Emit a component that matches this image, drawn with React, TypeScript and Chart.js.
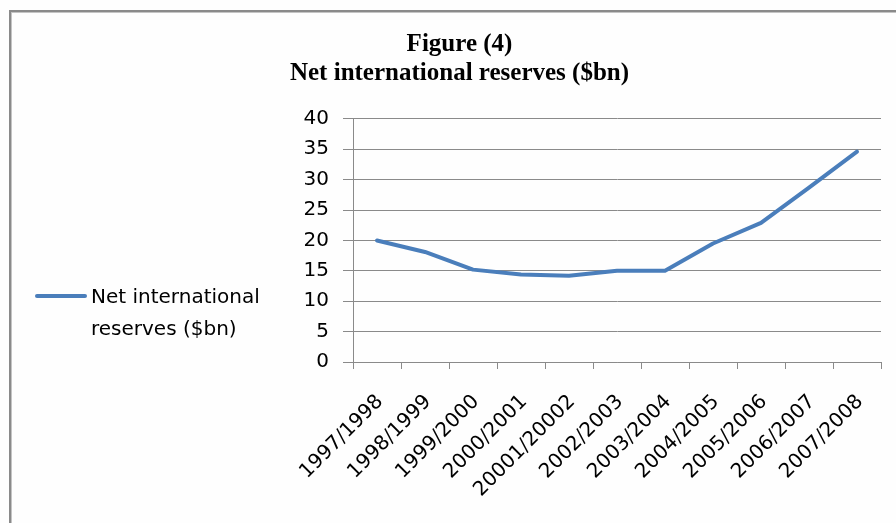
import React, { useEffect, useRef } from 'react';
import { Chart, registerables } from 'chart.js';

Chart.register(...registerables);

// Fiscal years on the category axis (labels kept as published)
const fiscalYears = [
  '1997/1998',
  '1998/1999',
  '1999/2000',
  '2000/2001',
  '20001/20002',
  '2002/2003',
  '2003/2004',
  '2004/2005',
  '2005/2006',
  '2006/2007',
  '2007/2008',
];

// Net international reserves, billions of dollars
const netReserves = [20.0, 18.1, 15.2, 14.4, 14.2, 15.0, 15.0, 19.5, 22.9, 28.7, 34.6];

const seriesLabel = 'Net international reserves ($bn)';
const titleLines = ['Figure (4)', 'Net international reserves ($bn)'];

const yMin = 0;
const yMax = 40;
const yStep = 5;

const LINE_BLUE = '#4A7EBB';
const AXIS_GREY = '#8a8a8a';
const SANS = '"DejaVu Sans", sans-serif';
const SERIF = '"Liberation Serif", "Times New Roman", serif';

// Legend drawn to the left of the value axis, wrapping the label onto two lines
const sideLegend = {
  id: 'sideLegend',
  afterDraw(chart: any) {
    const { ctx } = chart;
    const ds = chart.data.datasets[0];
    const maxWidth = 190;
    ctx.save();
    ctx.font = `20px ${SANS}`;
    const words = String(ds.label).split(' ');
    const lines: string[] = [];
    let current = '';
    for (const w of words) {
      const trial = current ? current + ' ' + w : w;
      if (current && ctx.measureText(trial).width > maxWidth) {
        lines.push(current);
        current = w;
      } else {
        current = trial;
      }
    }
    if (current) lines.push(current);

    ctx.strokeStyle = ds.borderColor;
    ctx.lineWidth = 4;
    ctx.lineCap = 'round';
    ctx.beginPath();
    ctx.moveTo(37, 296);
    ctx.lineTo(85, 296);
    ctx.stroke();

    ctx.fillStyle = '#000';
    ctx.textAlign = 'left';
    ctx.textBaseline = 'alphabetic';
    lines.forEach((line, i) => {
      ctx.fillText(line, 91, 303 + i * 32.3);
    });
    ctx.restore();
  },
};

export default function App() {
  const canvasRef = useRef<HTMLCanvasElement | null>(null);

  useEffect(() => {
    if (!canvasRef.current) return;
    const chart = new Chart(canvasRef.current, {
      type: 'line',
      data: {
        labels: fiscalYears,
        datasets: [
          {
            label: seriesLabel,
            data: netReserves,
            borderColor: LINE_BLUE,
            backgroundColor: LINE_BLUE,
            borderWidth: 4,
            pointRadius: 0,
            pointHoverRadius: 0,
            tension: 0,
            borderCapStyle: 'round',
            borderJoinStyle: 'round',
            fill: false,
          },
        ],
      },
      options: {
        animation: false,
        responsive: true,
        maintainAspectRatio: false,
        devicePixelRatio: 1,
        layout: { padding: 0 },
        plugins: {
          legend: { display: false },
          tooltip: { enabled: false },
          title: {
            display: true,
            text: titleLines,
            color: '#000',
            font: { family: SERIF, size: 25, weight: 'bold', lineHeight: 1.148 },
            padding: { top: 30.5, bottom: 31 },
          },
        },
        scales: {
          x: {
            type: 'category',
            offset: true,
            grid: {
              display: true,
              drawOnChartArea: false,
              drawTicks: true,
              tickLength: 7,
              offset: true,
              color: AXIS_GREY,
              lineWidth: 1,
            },
            border: { display: true, color: AXIS_GREY, width: 1 },
            ticks: {
              autoSkip: false,
              maxRotation: 45,
              minRotation: 45,
              padding: 21,
              labelOffset: 3,
              color: '#000',
              font: { family: SANS, size: 20 },
            },
            afterFit(scale: any) {
              scale.height = 161;
              scale.paddingRight = 38;
            },
          },
          y: {
            min: yMin,
            max: yMax,
            grid: {
              color: AXIS_GREY,
              lineWidth: 1,
              drawTicks: true,
              tickLength: 10,
            },
            border: { display: true, color: AXIS_GREY, width: 1 },
            ticks: {
              stepSize: yStep,
              padding: 14,
              color: '#000',
              font: { family: SANS, size: 20 },
            },
            afterFit(scale: any) {
              scale.width = 353;
            },
          },
        },
      },
      plugins: [sideLegend],
    } as any);
    return () => chart.destroy();
  }, []);

  return (
    <div
      style={{
        position: 'fixed',
        left: 0,
        top: 0,
        width: 896,
        height: 523,
        overflow: 'hidden',
        background: '#fefefe',
      }}
    >
      <div
        style={{
          position: 'absolute',
          left: 9,
          top: 10,
          width: 1000,
          height: 1000,
          borderTop: '2px solid #8a8a8a',
          borderLeft: '2px solid #8a8a8a',
          boxShadow: 'inset 1px 1px 0 #c4c4c4',
        }}
      />
      <div style={{ position: 'absolute', left: 0, top: 0, width: 919, height: 523 }}>
        <canvas ref={canvasRef} />
      </div>
    </div>
  );
}
